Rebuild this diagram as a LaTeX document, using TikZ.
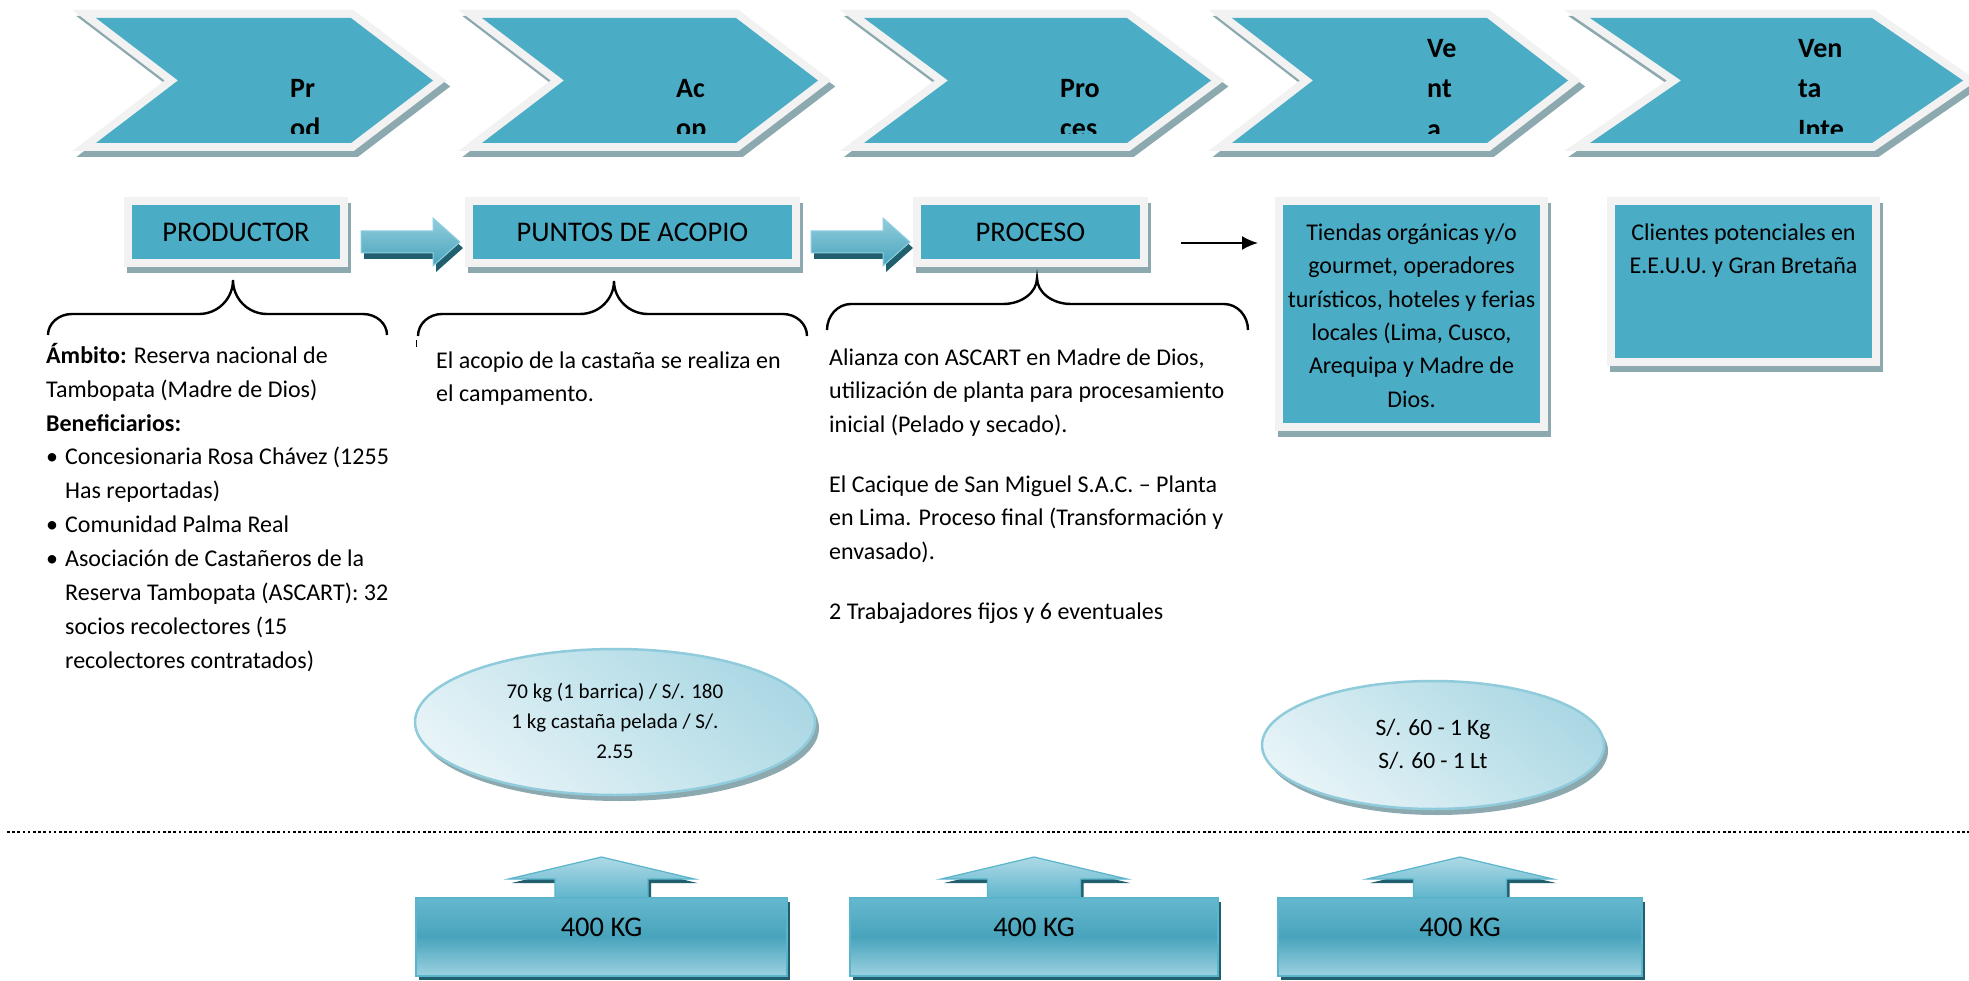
\documentclass[tikz,border=0pt]{standalone}
\usepackage{fontspec}
\setmainfont{Carlito}
\usetikzlibrary{shapes.geometric,shadows,calc,arrows.meta}

\definecolor{accent}{HTML}{4BACC6}
\definecolor{frame}{HTML}{F2F2F2}
\definecolor{softshadow}{HTML}{8DA9B0}
\definecolor{deepshadow}{HTML}{215E6E}
\definecolor{ovalrim}{HTML}{8FCBDB}
\definecolor{boxrim}{HTML}{5AB4CB}
\definecolor{arrowrim}{HTML}{8FD0E0}

\newcommand{\stagefont}{\bfseries\fontsize{28}{40.5}\selectfont}
\newcommand{\labelfont}{\fontsize{28.5}{34}\selectfont}

\begin{document}
\begin{tikzpicture}[x=1pt, y=-1pt,
  stagebox/.style={draw=frame, line width=8pt, fill=accent, inner sep=0pt,
    drop shadow={shadow xshift=3pt, shadow yshift=-6pt, fill=softshadow,
      draw=softshadow, line width=8pt, opacity=1}},
  bodytext/.style={inner sep=0pt, text=black},
  pricebubble/.style={ellipse, draw=ovalrim, line width=2.5pt, inner sep=0pt,
    top color=ovalrim!75, bottom color=ovalrim!22, shading angle=-40,
    drop shadow={shadow xshift=4pt, shadow yshift=-6pt, fill=softshadow, opacity=1}},
  weightbox/.style={draw=boxrim, line width=1.5pt, inner sep=0pt,
    top color=accent!85!white, bottom color=accent!55!white, middle color=accent!95!black,
    drop shadow={shadow xshift=3pt, shadow yshift=-4pt, fill=deepshadow, opacity=1}},
  bracestroke/.style={line width=2.4pt, black},
  pics/chev/.style n args={5}{code={
    % #1 width, #2 notch depth, #3 first baseline, #4 text, #5 text offset
    \path[fill=softshadow, draw=softshadow, line width=16pt, shift={(4,6)}]
      (0,18) -- ({#1-#2},18) -- (#1,80.5) -- ({#1-#2},143) -- (0,143) -- (#2,80.5) -- cycle;
    \path[fill=frame, draw=frame, line width=16pt]
      (0,18) -- ({#1-#2},18) -- (#1,80.5) -- ({#1-#2},143) -- (0,143) -- (#2,80.5) -- cycle;
    \fill[accent]
      (0,18) -- ({#1-#2},18) -- (#1,80.5) -- ({#1-#2},143) -- (0,143) -- (#2,80.5) -- cycle;
    \begin{scope}
      \clip (0,18) rectangle (#1,133.5);
      \node[inner sep=0pt, anchor=north west, align=left, font=\stagefont]
        (-label) at (#5,{#3-28.35}) {\strut #4};
    \end{scope}
  }},
  pics/flowarrow/.style={code={
    \path[fill=deepshadow, shift={(3,6)}]
      (-49.5,-1) -- (22.5,-1) -- (22.5,-14) -- (49.5,10) -- (22.5,34) -- (22.5,21) -- (-49.5,21) -- cycle;
    \path[draw=arrowrim, line width=1pt, top color=accent!60!white, bottom color=accent!95!black]
      (-49.5,-1) -- (22.5,-1) -- (22.5,-14) -- (49.5,10) -- (22.5,34) -- (22.5,21) -- (-49.5,21) -- cycle;
  }},
  pics/uphead/.style={code={
    \path[fill=deepshadow, shift={(3,4)}]
      (-46.5,2) -- (-46.5,-18) -- (-93,-18) -- (0,-40) -- (93,-18) -- (46.5,-18) -- (46.5,2) -- cycle;
    \path[draw=boxrim, line width=1.2pt, top color=accent!45!white, bottom color=accent!90!white]
      (-46.5,2) -- (-46.5,-18) -- (-93,-18) -- (0,-40) -- (93,-18) -- (46.5,-18) -- (46.5,2) -- cycle;
  }},
  pics/topbrace/.style n args={4}{code={
    % #1 left reach, #2 right reach, #3 end drop, #4 tip rise
    \draw[bracestroke] ({-#1},{#3}) .. controls ({-#1},{0.448*#3}) and ({-#1+10.75},0) .. ({-#1+24},0)
      -- (-34,0) .. controls (-15.23,0) and (0,{-0.448*#4}) .. (0,{-#4})
      .. controls (0,{-0.448*#4}) and (15.23,0) .. (34,0)
      -- ({#2-24},0) .. controls ({#2-10.75},0) and ({#2},{0.448*#3}) .. ({#2},{#3});
  }}
]
\useasboundingbox (0,0) rectangle (1969,981);

% value chain stages
\pic (stage1) at (96,0)   {chev={337}{82}{97}{Pr\\od}{194}};
\pic (stage2) at (482,0)  {chev={336}{82}{97}{Ac\\op}{194}};
\pic (stage3) at (864,0)  {chev={347}{84}{97}{Pro\\ces}{196}};
\pic (stage4) at (1232,0) {chev={336}{81}{57}{Ve\\nt\\a}{195}};
\pic (stage5) at (1590,0) {chev={373}{91}{57}{Ven\\ta\\Inte}{208}};

% actors
\node[stagebox, minimum width=216pt, minimum height=62pt, font=\labelfont] (prod) at (236,232) {PRODUCTOR};
\node[stagebox, minimum width=327pt, minimum height=62pt, font=\labelfont] (acop) at (632.5,232) {PUNTOS DE ACOPIO};
\node[stagebox, minimum width=227pt, minimum height=62pt, font=\labelfont] (proc) at (1030.5,232) {PROCESO};
\node[stagebox, minimum width=265pt, minimum height=226pt] (tiendas) at (1411.5,314) {};
\node[stagebox, minimum width=265pt, minimum height=161pt] (clientes) at (1743.5,281.5) {};

\node[bodytext, align=center, anchor=north, font=\fontsize{24}{33.4}\selectfont] (tiendastext)
  at (1411.5,{240-23.38})
  {\strut Tiendas orgánicas y/o\\gourmet, operadores\\turísticos, hoteles y ferias\\locales (Lima, Cusco,\\Arequipa y Madre de\\Dios.};
\node[bodytext, align=center, anchor=north, font=\fontsize{24}{33.4}\selectfont] (clientestext)
  at (1743.5,{240-23.38})
  {\strut Clientes potenciales en\\E.E.U.U. y Gran Bretaña};

% links between actors
\pic (link1) at ($(prod.east)!.5!(acop.west)+(4,0)$) {flowarrow};
\pic (link2) at ($(acop.east)!.5!(proc.west)+(4,0)$) {flowarrow};
\coordinate (flowstart) at ([shift={(33,11)}]proc.east);
\draw[line width=2pt, -{Latex[length=16pt,width=14pt]}, shorten >=17pt]
  (flowstart) -- (flowstart -| tiendas.west);

% braces
\pic (brace1) at (233,314)  {topbrace={185}{154}{21}{34}};
\pic (brace2) at (614,314)  {topbrace={196}{193}{22}{33}};
\pic (brace3) at (1037,304) {topbrace={210}{211}{26}{26}};
\coordinate (tickA) at (416,340);
\coordinate (tickB) at (416,347);
\draw[line width=1pt] (tickA) -- (tickB);

% descriptions
\node[bodytext, align=left, anchor=north west, font=\fontsize{24}{33.9}\selectfont] (prodtext)
  at (46,{363-23.73})
  {\strut\textbf{Ámbito:} Reserva nacional de\\
   Tambopata (Madre de Dios)\\
   \textbf{Beneficiarios:}\\
   \makebox[19pt][l]{\textbullet}Concesionaria Rosa Chávez (1255\\
   \hspace*{19pt}Has reportadas)\\
   \makebox[19pt][l]{\textbullet}Comunidad Palma Real\\
   \makebox[19pt][l]{\textbullet}Asociación de Castañeros de la\\
   \hspace*{19pt}Reserva Tambopata (ASCART): 32\\
   \hspace*{19pt}socios recolectores (15\\
   \hspace*{19pt}recolectores contratados)};

\node[bodytext, align=left, anchor=north west, font=\fontsize{24}{33.5}\selectfont] (acoptext)
  at (436,{368-23.45})
  {\strut El acopio de la castaña se realiza en\\el campamento.};

\node[bodytext, align=left, anchor=north west, font=\fontsize{24}{33.5}\selectfont] (proctext)
  at (829,{365-23.45})
  {\strut Alianza con ASCART en Madre de Dios,\\
   utilización de planta para procesamiento\\
   inicial (Pelado y secado).\\[26.5pt]
   El Cacique de San Miguel S.A.C. – Planta\\
   en Lima. Proceso final (Transformación y\\
   envasado).\\[26.5pt]
   2 Trabajadores fijos y 6 eventuales};

% prices
\node[pricebubble, minimum width=400pt, minimum height=146pt, align=center,
  font=\fontsize{21}{30}\selectfont] (price1) at (615,722)
  {\strut 70 kg (1 barrica) / S/. 180\\\strut 1 kg castaña pelada / S/.\\\strut 2.55};
\node[pricebubble, minimum width=342pt, minimum height=128pt, align=center,
  font=\fontsize{23.5}{33}\selectfont] (price2) at (1433,745)
  {\strut S/. 60 - 1 Kg\\\strut S/. 60 - 1 Lt};

% separator
\coordinate (sepL) at (7,832);
\coordinate (sepR) at (1969,832);
\draw[line width=2.6pt, dash pattern=on 2.6pt off 2.6pt] (sepL) -- (sepR);

% volumes
\coordinate (cap1) at (601.5,897);
\coordinate (cap2) at (1034,897);
\coordinate (cap3) at (1460,897);
\pic (head1) at (cap1) {uphead};
\pic (head2) at (cap2) {uphead};
\pic (head3) at (cap3) {uphead};
\node[weightbox, anchor=north, minimum width=371pt, minimum height=78pt] (vol1) at (cap1) {};
\node[weightbox, anchor=north, minimum width=368pt, minimum height=78pt] (vol2) at (cap2) {};
\node[weightbox, anchor=north, minimum width=364pt, minimum height=78pt] (vol3) at (cap3) {};
\node[bodytext, font=\labelfont] (vol1text) at ([yshift=9pt]vol1.center) {400 KG};
\node[bodytext, font=\labelfont] (vol2text) at ([yshift=9pt]vol2.center) {400 KG};
\node[bodytext, font=\labelfont] (vol3text) at ([yshift=9pt]vol3.center) {400 KG};
\end{tikzpicture}
\end{document}
